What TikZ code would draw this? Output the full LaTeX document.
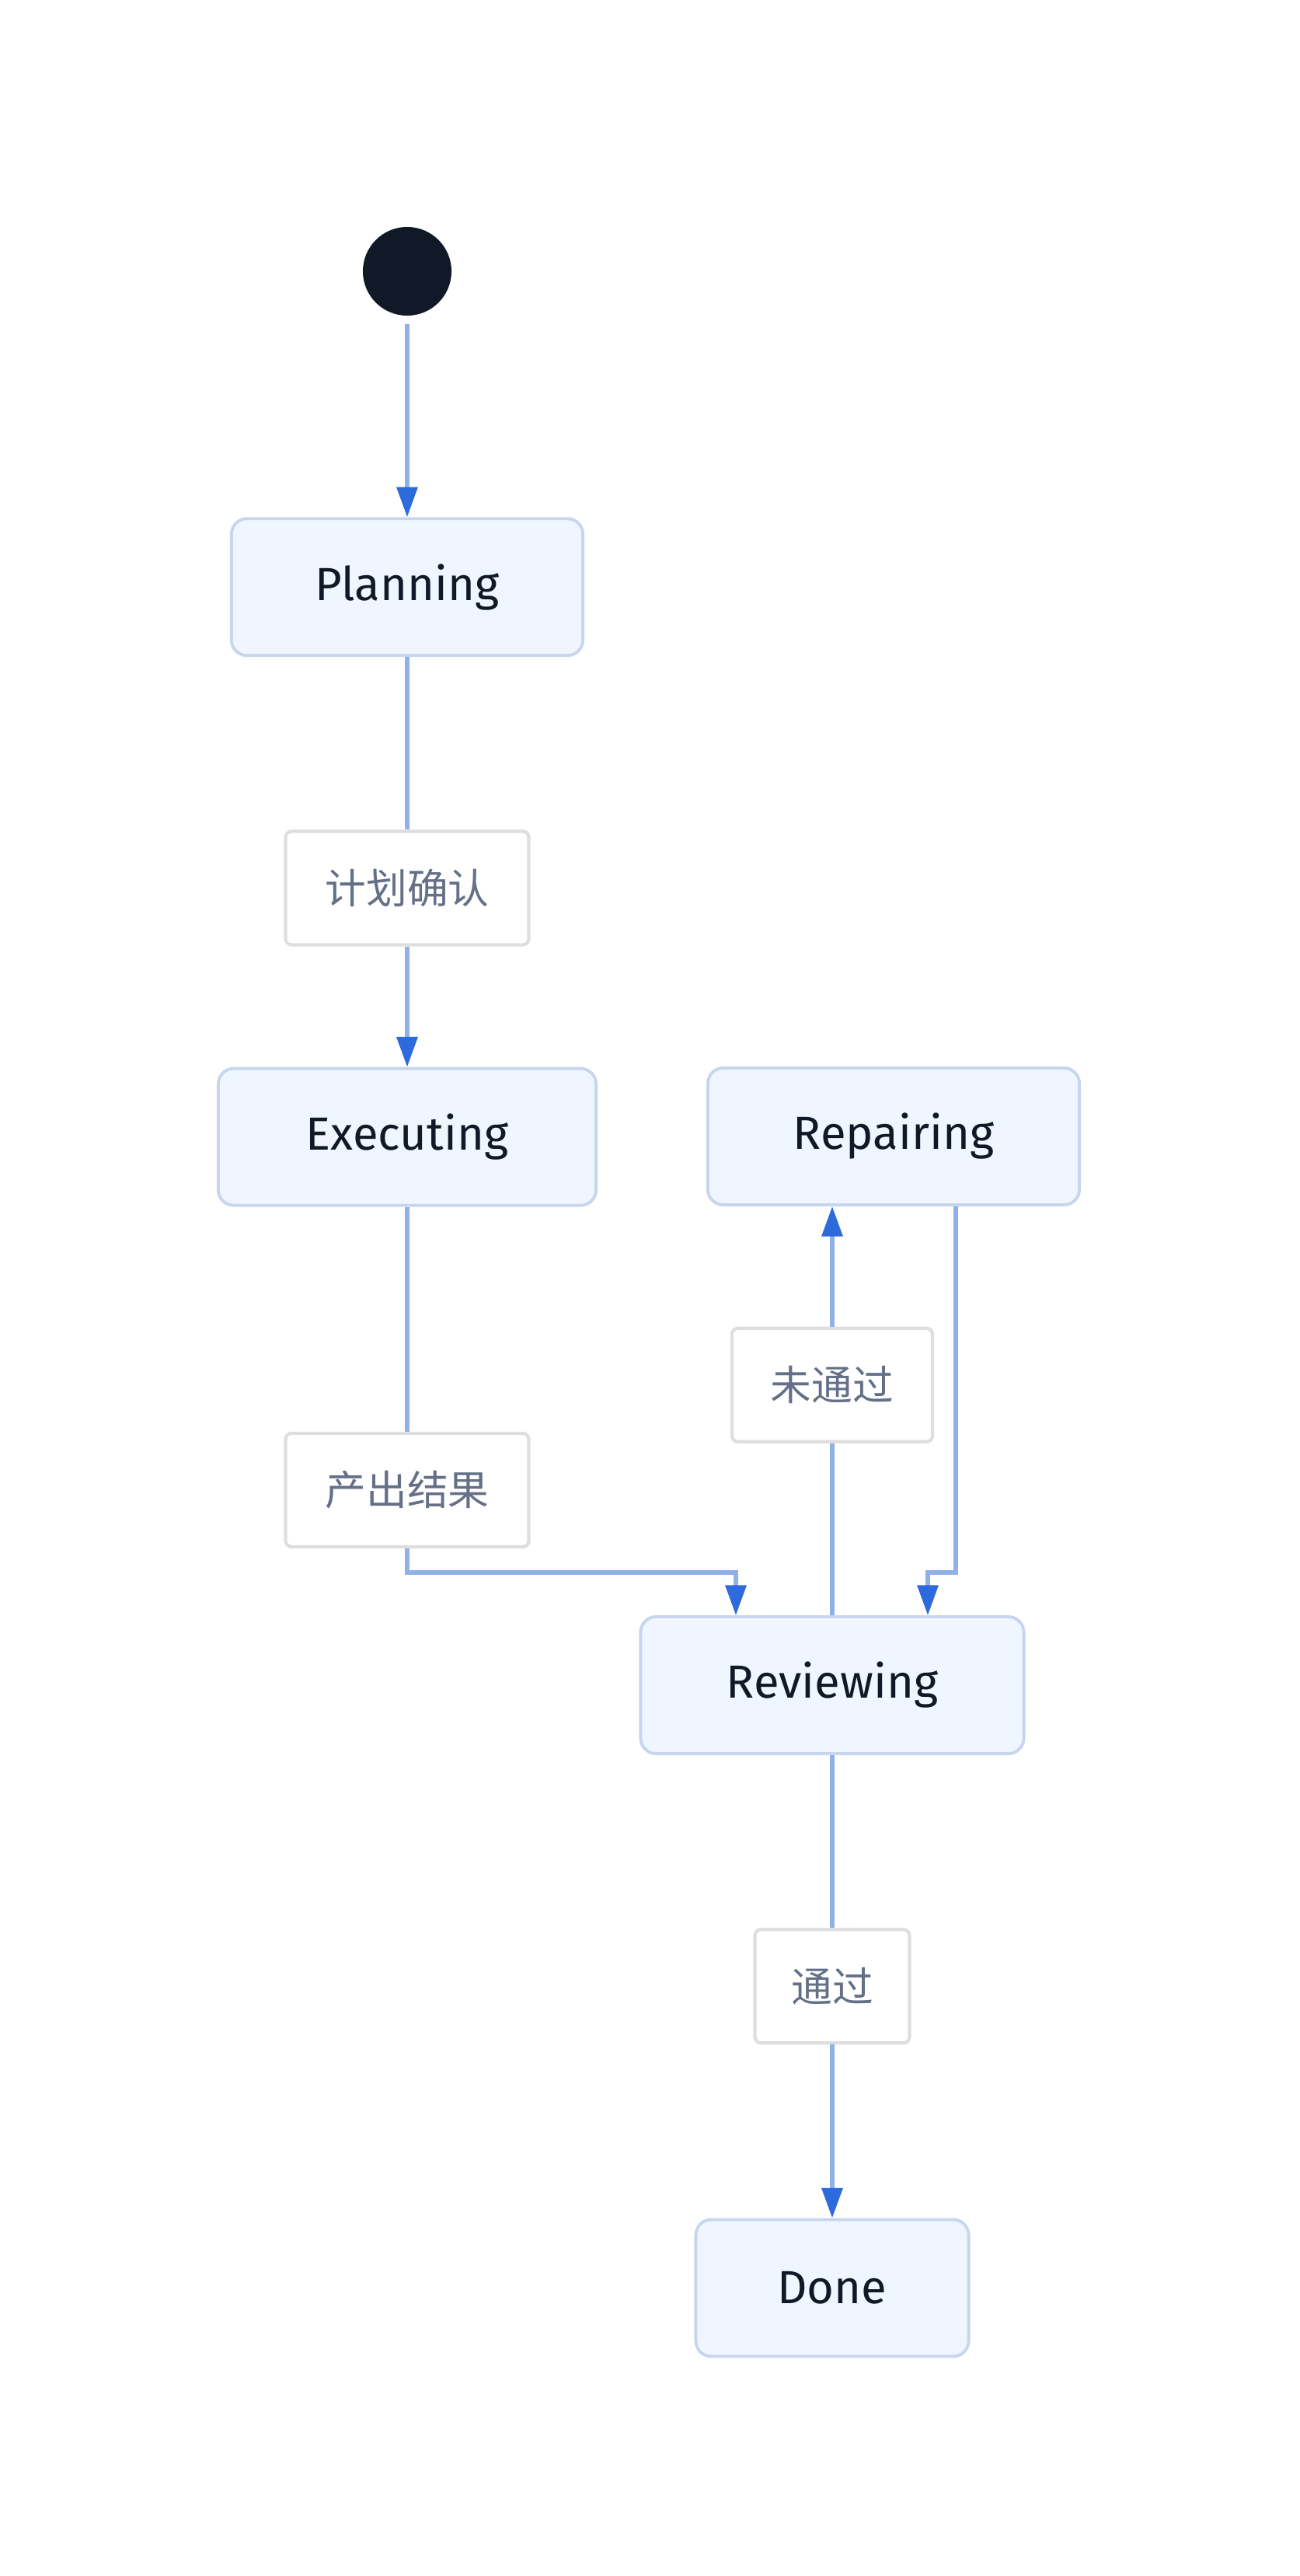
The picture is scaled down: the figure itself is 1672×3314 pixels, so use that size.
\documentclass[tikz,border=0pt]{standalone}
\usepackage{fontspec}
\usepackage{tikz}
\usetikzlibrary{arrows.meta}
\setmainfont{Fira Sans}
\newfontfamily\cjk{Noto Sans CJK SC}
\definecolor{statefill}{RGB}{239,246,255}
\definecolor{stateline}{RGB}{199,213,238}
\definecolor{statetext}{RGB}{17,24,39}
\definecolor{edgeblue}{RGB}{143,176,232}
\definecolor{tipblue}{RGB}{45,106,219}
\definecolor{labelline}{RGB}{222,222,222}
\definecolor{labeltext}{RGB}{100,112,135}

\begin{document}
\begin{tikzpicture}[x=0.01cm, y=-0.01cm,
  state/.style={draw=stateline, line width=1.1pt, rounded corners=0.2cm, fill=statefill,
    text=statetext, minimum height=1.76cm, font=\fontsize{17}{20}\selectfont},
  tag/.style={draw=labelline, line width=1.2pt, rounded corners=0.08cm, fill=white,
    text=labeltext, minimum height=1.46cm, font=\cjk\fontsize{15}{18}\selectfont},
  flow/.style={draw=edgeblue, line width=1.5pt},
  arr/.style={flow, -{Triangle[length=11pt, width=7.5pt, color=tipblue]}}]
\useasboundingbox (0,0) rectangle (1672,3314);

% states and labels
\node[circle, fill=statetext, minimum size=1.14cm, inner sep=0pt] (start) at (524,349) {};
\node[state, minimum width=4.52cm, below of=start, node distance=4.06cm] (planning) {Planning};
\node[tag, minimum width=3.13cm, below of=planning, node distance=3.87cm] (confirm) {计划确认};
\node[state, minimum width=4.86cm, below of=confirm, node distance=3.20cm] (executing) {Executing};
\node[tag, minimum width=3.13cm, below of=executing, node distance=4.54cm] (result) {产出结果};
\node[state, minimum width=4.78cm] (repairing) at (1150,1462) {Repairing};
\node[state, minimum width=4.93cm] (reviewing) at (1071,2168) {Reviewing};
\node[tag, minimum width=2.58cm, above of=reviewing, node distance=3.86cm] (fail) {未通过};
\node[tag, minimum width=1.99cm, below of=reviewing, node distance=3.87cm] (pass) {通过};
\node[state, minimum width=3.51cm, below of=pass, node distance=3.88cm] (done) {Done};

\coordinate (ra) at (947,2023);
\coordinate (rb) at (1230,2023);
\coordinate (rc) at (1194,2023);

% transitions
\draw[arr] ([yshift=-0.1cm]start.south) -- (planning);
\draw[flow] (planning) -- (confirm);
\draw[arr] (confirm) -- (executing);
\draw[flow] (executing) -- (result);
\draw[arr] (result.south) |- (ra) -- (ra |- reviewing.north);
\draw[flow] (reviewing) -- (fail);
\draw[arr] (fail) -- (fail |- repairing.south);
\draw[arr] (rb |- repairing.south) -- (rb) -- (rc) -- (rc |- reviewing.north);
\draw[flow] (reviewing) -- (pass);
\draw[arr] (pass) -- (done);
\end{tikzpicture}
\end{document}
